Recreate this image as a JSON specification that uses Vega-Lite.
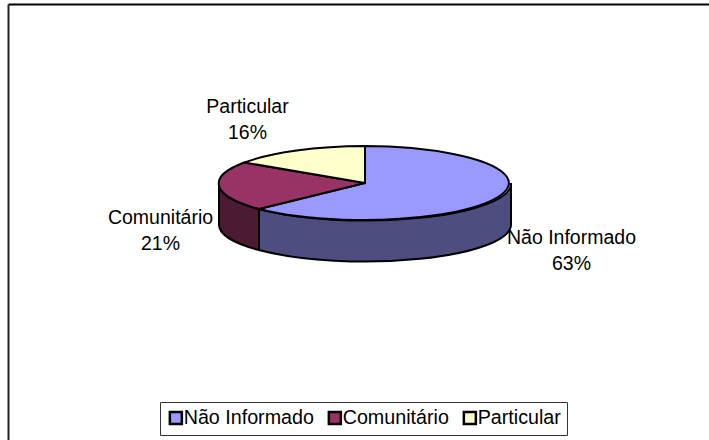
{
"$schema":"https://vega.github.io/schema/vega-lite/v6.json",
"width":701,"height":436,
"autosize":{"type":"none"},
"padding":{"left":8,"top":4,"right":0,"bottom":0},
"background":"white",
"config":{"view":{"stroke":null},"text":{"font":"Liberation Sans"}},
"data":{"values":[
{"categoria":"Não Informado","percentual":63,"rotulo":"Não Informado\n63%"},
{"categoria":"Comunitário","percentual":21,"rotulo":"Comunitário\n21%"},
{"categoria":"Particular","percentual":16,"rotulo":"Particular\n16%"}
]},
"layer":[
{"mark":{"type":"point","opacity":0},
 "encoding":{
  "x":{"datum":0,"type":"quantitative","scale":{"domain":[0,1]},"axis":{"orient":"top","labels":false,"ticks":false,"grid":false,"title":null,"domainColor":"#000","domainWidth":2}},
  "y":{"datum":0,"type":"quantitative","scale":{"domain":[0,1]},"axis":{"orient":"left","labels":false,"ticks":false,"grid":false,"title":null,"domainColor":"#222","domainWidth":2}}
 }},
{"transform":[{"filter":"datum.categoria === 'Não Informado'"}],
 "mark":{"type":"point","filled":true,"fill":"#4D4D80","stroke":"#000","strokeWidth":2,"strokeOpacity":1,"opacity":1,"size":4,"shape":"M152.5,-39 L152.5,2 A146,37 0 0 1 -99.5,28 L-99.5,-13 A146,37 0 0 0 152.5,-39 Z"}},
{"transform":[{"filter":"datum.categoria === 'Comunitário'"}],
 "mark":{"type":"point","filled":true,"fill":"#4D1A33","stroke":"#000","strokeWidth":2,"strokeOpacity":1,"opacity":1,"size":4,"shape":"M-99.5,-13 L-99.5,28 A146,37 0 0 1 -139.5,2 L-139.5,-39 A146,37 0 0 0 -99.5,-13 Z"}},
{"transform":[{"filter":"datum.categoria === 'Não Informado'"}],
 "mark":{"type":"point","filled":true,"stroke":"#000","strokeWidth":2,"strokeOpacity":1,"opacity":1,"size":4,"shape":"M6.5,-39 L6.5,-76 A146,37 0 1 1 -99.5,-13 Z"},
 "encoding":{"color":{"field":"categoria","type":"nominal","sort":null,"scale":{"domain":["Não Informado","Comunitário","Particular"],"range":["#9999FF","#993366","#FFFFCC"]},
  "legend":{"title":null,"orient":"none","legendX":152,"legendY":398,"direction":"horizontal","symbolType":"square","symbolSize":144,"symbolStrokeColor":"#000","symbolStrokeWidth":2.5,"labelFont":"Liberation Sans","labelFontSize":19.7,"labelColor":"#000","columnPadding":9,"labelOffset":-2,"strokeColor":"#333","padding":6,"fillColor":"white","cornerRadius":0,"labelLimit":300}}}},
{"transform":[{"filter":"datum.categoria === 'Comunitário'"}],
 "mark":{"type":"point","filled":true,"stroke":"#000","strokeWidth":2,"strokeOpacity":1,"opacity":1,"size":4,"shape":"M6.5,-39 L-99.5,-13 A146,37 0 0 1 -114,-59.5 Z"},
 "encoding":{"color":{"field":"categoria","type":"nominal","sort":null}}},
{"transform":[{"filter":"datum.categoria === 'Particular'"}],
 "mark":{"type":"point","filled":true,"stroke":"#000","strokeWidth":2,"strokeOpacity":1,"opacity":1,"size":4,"shape":"M6.5,-39 L-114,-59.5 A146,37 0 0 1 6.5,-76 Z"},
 "encoding":{"color":{"field":"categoria","type":"nominal","sort":null}}},
{"transform":[{"filter":"datum.categoria === 'Não Informado'"}],
 "mark":{"type":"text","font":"Liberation Sans","fontSize":19.5,"color":"#000","lineBreak":"\n","lineHeight":26,"align":"center","baseline":"middle","dx":213,"dy":16},
 "encoding":{"text":{"field":"rotulo","type":"nominal"}}},
{"transform":[{"filter":"datum.categoria === 'Comunitário'"}],
 "mark":{"type":"text","font":"Liberation Sans","fontSize":19.5,"color":"#000","lineBreak":"\n","lineHeight":26,"align":"center","baseline":"middle","dx":-198,"dy":-4},
 "encoding":{"text":{"field":"rotulo","type":"nominal"}}},
{"transform":[{"filter":"datum.categoria === 'Particular'"}],
 "mark":{"type":"text","font":"Liberation Sans","fontSize":19.5,"color":"#000","lineBreak":"\n","lineHeight":26,"align":"center","baseline":"middle","dx":-111,"dy":-115},
 "encoding":{"text":{"field":"rotulo","type":"nominal"}}}
]
}
